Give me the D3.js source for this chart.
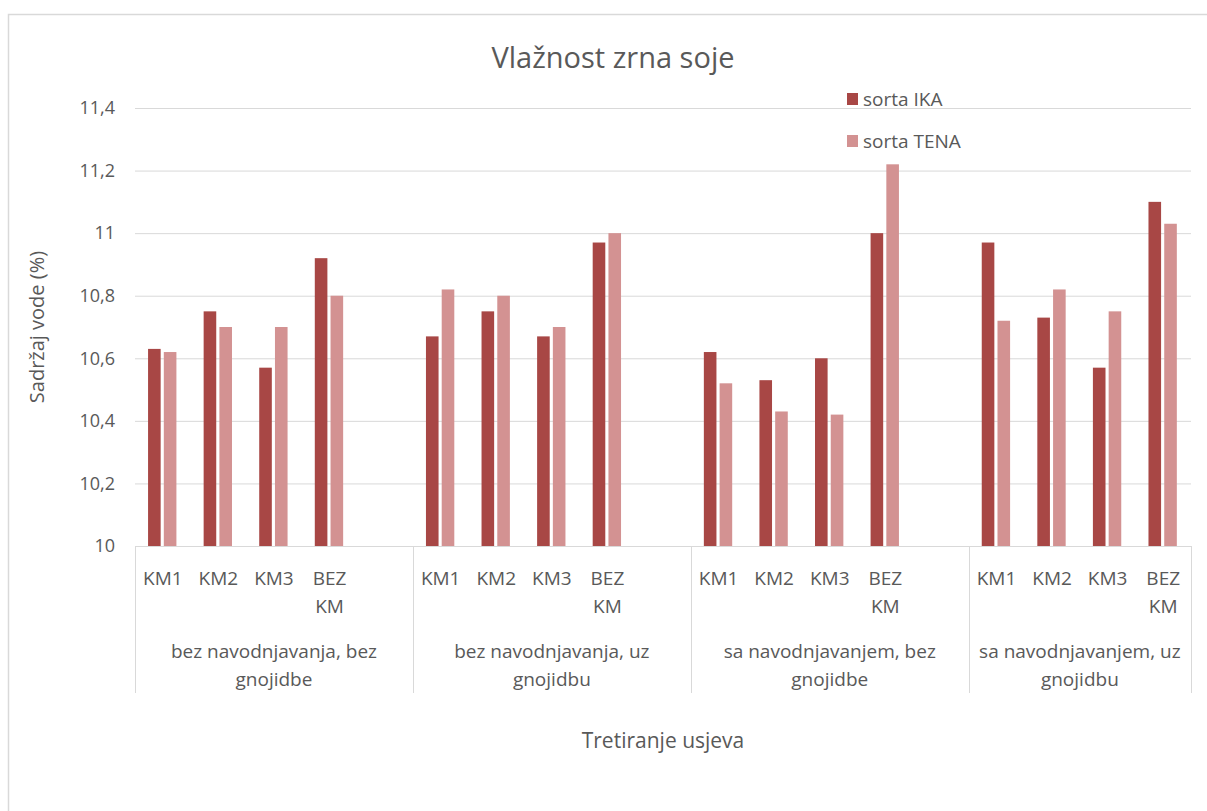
<!DOCTYPE html>
<html>
<head>
<meta charset="utf-8">
<script src="https://cdn.jsdelivr.net/npm/d3@7"></script>
<style>
  body { margin: 0; background: #fff; }
  text { font-family: "Open Sans", "Noto Sans", sans-serif; fill: #595959; }
</style>
</head>
<body>
<div id="chart"></div>
<script>
// data
var categories = ["KM1", "KM2", "KM3", "BEZ KM"];
var groupLabels = [
  ["bez navodnjavanja, bez", "gnojidbe"],
  ["bez navodnjavanja, uz", "gnojidbu"],
  ["sa navodnjavanjem, bez", "gnojidbe"],
  ["sa navodnjavanjem, uz", "gnojidbu"]
];
var seriesNames = ["sorta IKA", "sorta TENA"];
var ika  = [10.63, 10.75, 10.57, 10.92,  10.67, 10.75, 10.67, 10.97,  10.62, 10.53, 10.60, 11.00,  10.97, 10.73, 10.57, 11.10];
var tena = [10.62, 10.70, 10.70, 10.80,  10.82, 10.80, 10.70, 11.00,  10.52, 10.43, 10.42, 11.22,  10.72, 10.82, 10.75, 11.03];
var yTicks = [10, 10.2, 10.4, 10.6, 10.8, 11, 11.2, 11.4];
var colors = ["#a84745", "#d39292"];

var svgWidth = 1207;
var svgHeight = 811;
var margin = { top: 108, left: 135, right: 16, bottom: 265 };
var width = svgWidth - margin.left - margin.right;
var height = svgHeight - margin.top - margin.bottom;

var svg = d3.select("#chart").append("svg")
  .attr("width", svgWidth)
  .attr("height", svgHeight);

// chart frame
svg.append("rect")
  .attr("x", 8.5).attr("y", 14.5)
  .attr("width", 1400).attr("height", 1000)
  .attr("fill", "none")
  .attr("stroke", "#d9d9d9")
  .attr("stroke-width", 1.5);

var g = svg.append("g").attr("transform", `translate(${margin.left},${margin.top})`);

// slots: every group has 4 categories, plus an empty slot except the last one
var slots = [];
var rows = [];
groupLabels.forEach(function(gl, gi) {
  categories.forEach(function(c, ci) {
    var key = gi + "-" + ci;
    slots.push(key);
    rows.push({ key: key, group: gi, cat: c, ika: ika[gi * 4 + ci], tena: tena[gi * 4 + ci] });
  });
  if (gi < groupLabels.length - 1) slots.push(gi + "-blank");
});

var x0 = d3.scaleBand().domain(slots).range([0, width]);
var x1 = d3.scaleBand().domain([0, 1])
  .range([x0.bandwidth() * 0.235, x0.bandwidth() * 0.745])
  .paddingInner(0.2);

var y = d3.scaleLinear().domain([10, 11.4]).range([height, 0]);

// gridlines
g.append("g")
  .call(d3.axisLeft(y).tickValues(yTicks).tickSize(-width).tickFormat(""))
  .call(s => s.select(".domain").remove())
  .call(s => s.selectAll("line").attr("stroke", "#d9d9d9"));

// y tick labels
g.append("g")
  .call(d3.axisLeft(y).tickValues(yTicks).tickSize(0).tickPadding(20)
    .tickFormat(d => String(+d.toFixed(1)).replace(".", ",")))
  .call(s => s.select(".domain").remove())
  .call(s => s.selectAll("text").style("font-size", "18px").attr("fill", "#595959"));

// bars
var bars = g.selectAll(".slot")
  .data(rows)
  .enter().append("g")
  .attr("transform", d => `translate(${x0(d.key)},0)`);

bars.selectAll("rect")
  .data(d => [d.ika, d.tena])
  .enter().append("rect")
  .attr("x", (d, i) => x1(i))
  .attr("width", x1.bandwidth())
  .attr("y", d => y(d))
  .attr("height", d => height - y(d))
  .attr("fill", (d, i) => colors[i]);

// category axis (two levels)
g.append("line")
  .attr("x1", 0).attr("x2", width)
  .attr("y1", height + 0.5).attr("y2", height + 0.5)
  .attr("stroke", "#d9d9d9");

var groupEdges = [0];
groupLabels.forEach(function(gl, gi) {
  var last = gi + "-" + (gi < groupLabels.length - 1 ? "blank" : (categories.length - 1));
  groupEdges.push(x0(last) + x0.bandwidth());
});

g.selectAll(".gsep")
  .data(groupEdges)
  .enter().append("line")
  .attr("x1", d => Math.round(d) + 0.5).attr("x2", d => Math.round(d) + 0.5)
  .attr("y1", height).attr("y2", height + 147)
  .attr("stroke", "#d9d9d9");

var catText = g.selectAll(".cat")
  .data(rows)
  .enter().append("text")
  .attr("text-anchor", "middle")
  .style("font-size", "19px")
  .attr("transform", d => `translate(${x0(d.key) + x0.bandwidth() / 2},${height + 39})`);

catText.each(function(d) {
  var words = d.cat.split(" ");
  var t = d3.select(this);
  words.forEach(function(w, i) {
    t.append("tspan").attr("x", 0).attr("y", i * 28).text(w);
  });
});

var grpText = g.selectAll(".grp")
  .data(groupLabels)
  .enter().append("text")
  .attr("text-anchor", "middle")
  .style("font-size", "19px")
  .attr("transform", (d, i) => `translate(${(groupEdges[i] + groupEdges[i + 1]) / 2},${height + 112})`);

grpText.selectAll("tspan")
  .data(d => d)
  .enter().append("tspan")
  .attr("x", 0)
  .attr("y", (d, i) => i * 28)
  .text(d => d);

// title
svg.append("text")
  .attr("x", 613).attr("y", 68)
  .attr("text-anchor", "middle")
  .style("font-size", "29px")
  .text("Vlažnost zrna soje");

// axis titles
svg.append("text")
  .attr("x", margin.left + width / 2).attr("y", 748)
  .attr("text-anchor", "middle")
  .style("font-size", "21px")
  .text("Tretiranje usjeva");

svg.append("text")
  .attr("transform", "translate(44,327) rotate(-90)")
  .attr("text-anchor", "middle")
  .style("font-size", "20px")
  .text("Sadržaj vode (%)");

// legend
var legend = svg.selectAll(".legend")
  .data(seriesNames)
  .enter().append("g")
  .attr("transform", (d, i) => `translate(847,${93 + i * 42})`);

legend.append("rect")
  .attr("width", 11).attr("height", 12)
  .attr("fill", (d, i) => colors[i]);

legend.append("text")
  .attr("x", 16).attr("y", 13)
  .style("font-size", "19px")
  .text(d => d);
</script>
</body>
</html>
